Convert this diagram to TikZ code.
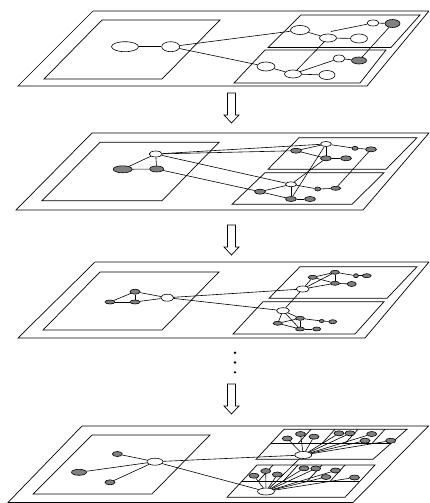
\documentclass[tikz,border=0pt]{standalone}
\usetikzlibrary{shapes.geometric}

\begin{document}
\begin{tikzpicture}[x=1pt, y=-1pt, line width=0.6pt,
    vtx/.style 2 args={draw, ellipse, inner sep=0pt, minimum width=#1, minimum height=#2},
    wn/.style 2 args={vtx={#1}{#2}, fill=white},
    gn/.style 2 args={vtx={#1}{#2}, fill=black!50},
    plane/.style={line width=0.7pt},
    downarrow/.pic={\draw[line width=0.7pt] (-4,0) -- (4,0) -- (4,22) -- (7.5,22) -- (0,30)
        -- (-7.5,22) -- (-4,22) -- cycle;}
  ]
    \useasboundingbox (0,0) rectangle (429,503);
    \clip (0,0) rectangle (429,503);

    % level 1
    \draw[plane] (18,86) -- (367,86) -- (429,11) -- (93,11) -- cycle;
    \draw[plane] (44,79) -- (162,79) -- (220,20) -- (102,20) -- cycle;
    \draw[plane] (268,47.5) -- (391,47.5) -- (420,15) -- (301,15) -- cycle;
    \draw[plane] (234,83) -- (360,83) -- (386,50) -- (265,50) -- cycle;

    \node[wn={27pt}{10pt}] (a1) at (125,46.7) {};
    \node[wn={18pt}{10pt}] (b1) at (170.7,46.7) {};
    \node[wn={19pt}{9pt}] (u1A) at (300,30) {};
    \node[wn={17pt}{8pt}] (u1B) at (328,38) {};
    \node[wn={17pt}{9pt}] (u1C) at (359,38.5) {};
    \node[wn={12pt}{6pt}] (u1D) at (373,23) {};
    \node[gn={15pt}{8pt}] (u1E) at (392.5,23.5) {};
    \node[wn={18pt}{9pt}] (l1F) at (266,66.5) {};
    \node[wn={17pt}{8pt}] (l1G) at (293,74) {};
    \node[wn={16pt}{9pt}] (l1H) at (327,75) {};
    \node[wn={12pt}{7pt}] (l1I) at (339,58.5) {};
    \node[gn={15pt}{7pt}] (l1J) at (359,60.5) {};
    \coordinate (t1) at (331,31.5);

    \draw (a1) -- (b1);
    \draw (b1) -- (u1A);
    \draw (b1) -- (l1F);
    \draw (u1A) -- (u1B);
    \draw (u1B) -- (u1C);
    \draw (t1) -- (u1D);
    \draw (u1D) -- (u1E);
    \draw (u1E) -- (l1J);
    \draw (l1F) -- (l1G);
    \draw (l1G) -- (l1H);
    \draw (l1G) -- (l1I);
    \draw (l1I) -- (l1J);
    \draw (l1G) -- (u1B);

    \pic at (231.5,93) {downarrow};

    % level 2
    \draw[plane] (16,210) -- (363,210) -- (429,133) -- (92,133) -- cycle;
    \draw[plane] (42,200.7) -- (162,200.7) -- (219,142.3) -- (100,142.3) -- cycle;
    \draw[plane] (268,169.3) -- (386,169.3) -- (417,137.7) -- (299,137.7) -- cycle;
    \draw[plane] (232,204.3) -- (352,204.3) -- (384,172.7) -- (265,172.7) -- cycle;

    \node[wn={13pt}{6pt}] (n2) at (155.7,154) {};
    \node[gn={19pt}{7pt}] (g2a) at (122.7,169.3) {};
    \node[gn={14pt}{6pt}] (g2b) at (156.7,169) {};
    \node[wn={11pt}{5pt}] (U1) at (326,144) {};
    \node[gn={11pt}{5pt}] (U2) at (296,150.7) {};
    \node[gn={11pt}{5pt}] (U3) at (326,158.3) {};
    \node[gn={11pt}{5pt}] (U4) at (346,158.3) {};
    \node[gn={6pt}{4pt}] (U5) at (355,148.3) {};
    \node[gn={11pt}{5pt}] (U6) at (371,149.3) {};
    \node[wn={11pt}{5pt}] (L1) at (291,184.3) {};
    \node[gn={11pt}{5pt}] (L2) at (260,191.7) {};
    \node[gn={11pt}{5pt}] (L3) at (291,199) {};
    \node[gn={11pt}{5pt}] (L4) at (310,199) {};
    \node[gn={6pt}{4pt}] (L5) at (317.7,189) {};
    \node[gn={10pt}{4pt}] (L6) at (335.7,188.3) {};

    \draw (n2) -- (g2a);
    \draw (n2) -- (g2b);
    \draw (g2a) -- (g2b);
    \draw (n2) -- (U1);
    \draw (n2) -- (U2);
    \draw (n2) -- (L1);
    \draw (g2b) -- (L2);
    \draw (U1) -- (U2);
    \draw (U2) -- (U3);
    \draw (U1) -- (U3);
    \draw (U3) -- (U4);
    \draw (U1) -- (U5);
    \draw (U5) -- (U6);
    \draw (L1) -- (L2);
    \draw (L2) -- (L3);
    \draw (L1) -- (L3);
    \draw (L3) -- (L4);
    \draw (L1) -- (L5);
    \draw (L5) -- (L6);
    \draw (L6) -- (U6);
    \draw (U1) -- (L3);
    \draw (U3) -- (L1);

    \pic at (231.5,225) {downarrow};

    % level 3
    \draw[plane] (18,338) -- (365,338) -- (429,262) -- (95,262) -- cycle;
    \draw[plane] (43,330) -- (162,330) -- (219,272) -- (100,272) -- cycle;
    \draw[plane] (269,298.3) -- (387,298.3) -- (417,266.7) -- (300,266.7) -- cycle;
    \draw[plane] (233,334) -- (355,334) -- (384,301.7) -- (263,301.7) -- cycle;

    \node[wn={13pt}{7pt}] (w3) at (167.3,297.7) {};
    \node[gn={10pt}{5pt}] (a3) at (135,291.7) {};
    \node[gn={10pt}{4pt}] (b3) at (110,302) {};
    \node[gn={10pt}{4pt}] (c3) at (135,302) {};
    \node[wn={13pt}{6pt}] (uw3) at (302.7,289) {};
    \node[gn={9pt}{4pt}] (p1) at (312.7,277.3) {};
    \node[gn={9pt}{4pt}] (p2) at (335,272.3) {};
    \node[gn={9pt}{4pt}] (p3) at (335,283.3) {};
    \node[gn={9pt}{5pt}] (p4) at (351.7,284) {};
    \node[gn={5pt}{4pt}] (p5) at (356,275.7) {};
    \node[gn={9pt}{4pt}] (p6) at (366.7,275.7) {};
    \node[wn={13pt}{6pt}] (lw3) at (283,310.7) {};
    \node[gn={9pt}{4pt}] (q1) at (277.7,323.3) {};
    \node[gn={9pt}{4pt}] (q2) at (300,318.3) {};
    \node[gn={9pt}{4pt}] (q3) at (300,329) {};
    \node[gn={8pt}{4pt}] (q4) at (316.7,329) {};
    \node[gn={5pt}{3pt}] (q5) at (321.7,321) {};
    \node[gn={8pt}{4pt}] (q6) at (332.7,321.7) {};

    \draw (a3) -- (b3);
    \draw (a3) -- (c3);
    \draw (b3) -- (c3);
    \draw (a3) -- (w3);
    \draw (c3) -- (w3);
    \draw (w3) -- (uw3);
    \draw (w3) -- (lw3);
    \draw (uw3) -- (lw3);
    \draw (uw3) -- (p1);
    \draw (uw3) -- (p2);
    \draw (uw3) -- (p3);
    \draw (p1) -- (p2);
    \draw (p1) -- (p3);
    \draw (p2) -- (p3);
    \draw (p3) -- (p4);
    \draw (p2) -- (p5);
    \draw (p5) -- (p6);
    \draw (lw3) -- (q1);
    \draw (lw3) -- (q2);
    \draw (lw3) -- (q3);
    \draw (q1) -- (q2);
    \draw (q1) -- (q3);
    \draw (q2) -- (q3);
    \draw (q3) -- (q4);
    \draw (q2) -- (q5);
    \draw (q5) -- (q6);

    % dots and last arrow
    \foreach \dy in {352.7,362.5,372.3}
      \fill (235,\dy) circle (1.3);
    \pic at (231.5,384) {downarrow};

    % level 4
    \draw[plane] (8,502.5) -- (353,502.5) -- (428.5,426) -- (82,426) -- cycle;
    \draw[plane] (33,494) -- (152,494) -- (210,435) -- (92,435) -- cycle;
    \draw[plane] (256,459.3) -- (373,459.3) -- (407,429.3) -- (284,429.3) -- cycle;
    \draw[plane] (270.7,443.5) -- (390.9,443.5);
    \foreach \tx in {311,335,358,385}
      \draw[plane] (\tx,429.3) -- (\tx-13,443.5);
    \draw[plane] (227,497.3) -- (345,497.3) -- (375,465) -- (257,465) -- cycle;
    \draw[plane] (241.7,481.5) -- (359.7,481.5);
    \foreach \tx in {273,298,322,345}
      \draw[plane] (\tx,465) -- (\tx-15,481.5);

    \node[wn={16pt}{7pt}] (w4) at (155,461.7) {};
    \node[gn={10pt}{5pt}] (s1) at (117.3,454) {};
    \node[gn={15pt}{6pt}] (s2) at (79,472.3) {};
    \node[gn={10pt}{5pt}] (s3) at (110,482.3) {};
    \node[wn={17pt}{7pt}] (hubU) at (303.3,455) {};
    \node[wn={17pt}{7pt}] (hubL) at (266,491.5) {};

    \draw (w4) -- (s1);
    \draw (w4) -- (s2);
    \draw (w4) -- (s3);
    \draw (w4) -- (hubU);
    \draw (w4) -- (hubL);
    \draw (hubU) -- (hubL);

    \foreach \px/\py [count=\i] in {287.3/438.5, 300.5/434, 314/436.7, 339/433.3,
        350/433.3, 371.7/434, 365/440.7, 390.7/440.7} {
      \node[gn={10pt}{5pt}] (up\i) at (\px,\py) {};
      \draw (hubU) -- (up\i);
    }
    \foreach \px/\py [count=\i] in {254/475.7, 265.7/471, 277.3/474.5, 304/468.3,
        315.7/468.5, 326/477, 335.5/470.5, 354.5/477.5} {
      \node[gn={10pt}{5pt}] (lo\i) at (\px,\py) {};
      \draw (hubL) -- (lo\i);
    }
  \end{tikzpicture}
\end{document}
